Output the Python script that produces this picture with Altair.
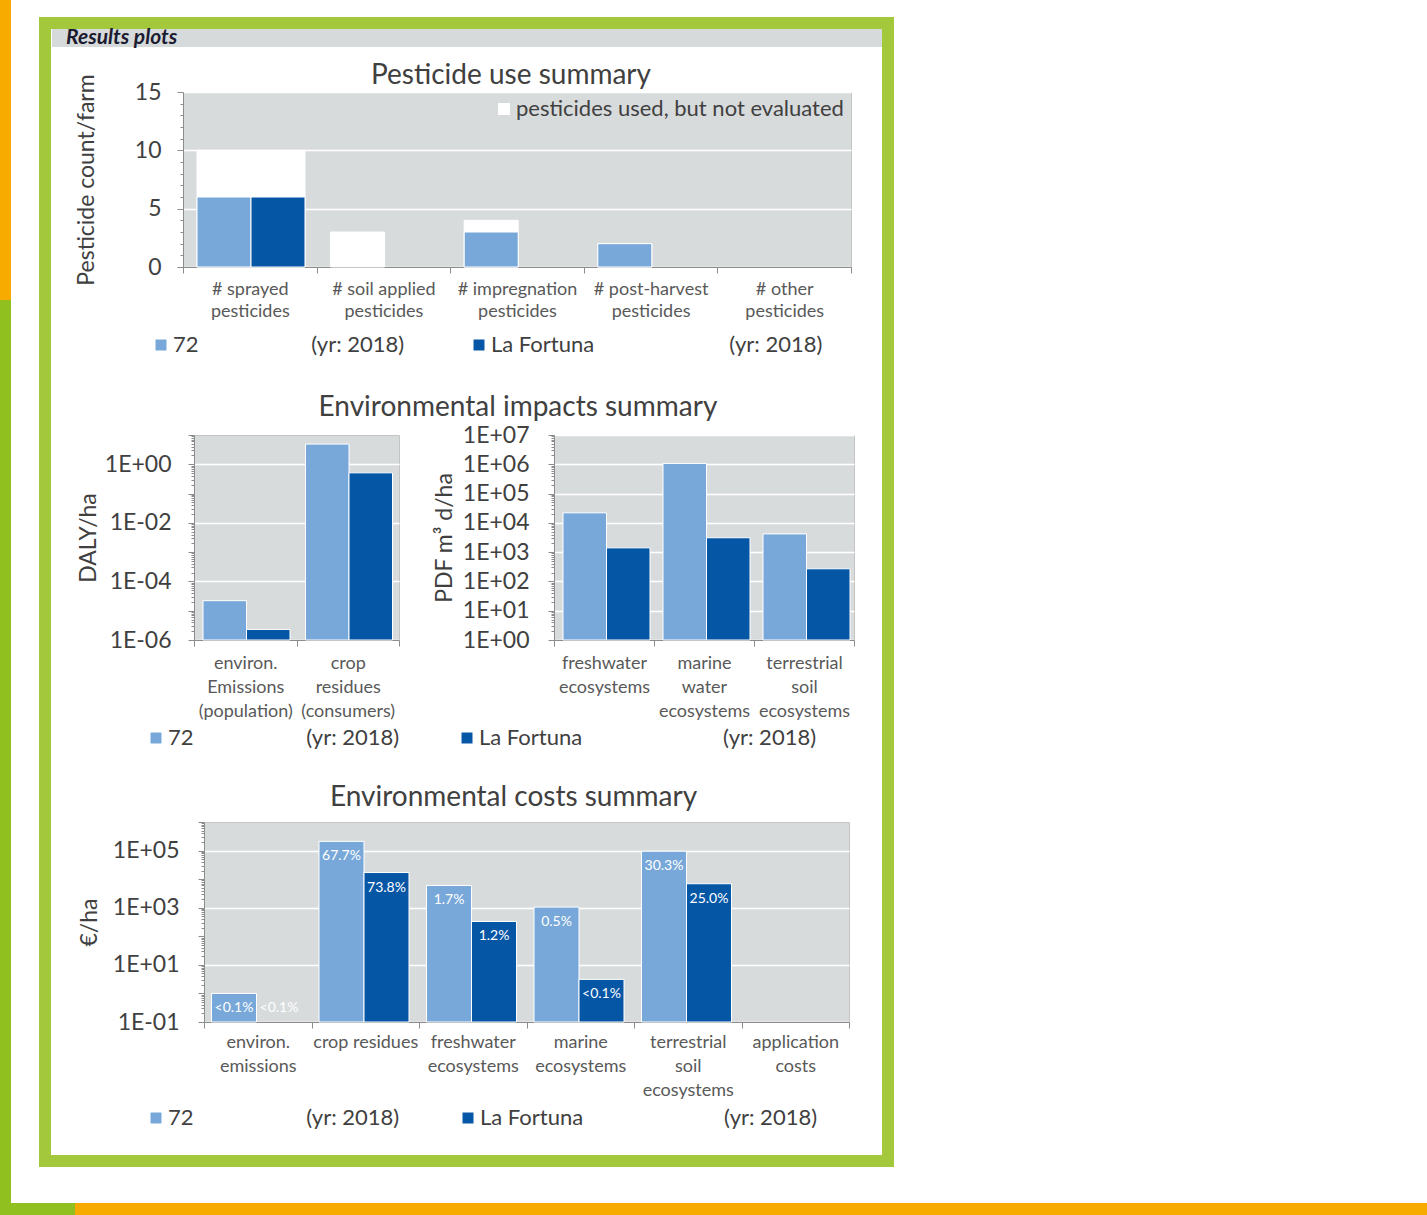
import altair as alt
import pandas as pd

FONT = "Lato"
TXT = "#404040"
LIGHT = "#78a8d9"
DARK = "#0656a6"
PLOT_BG = "#d8dbdc"
AXIS_GRAY = "#8c8c8c"
FRAME_GREEN = "#a3c83b"
STRIP_GREEN = "#8fc020"
ORANGE = "#f7ab00"

# ---------------- data ----------------
series = ["72", "La Fortuna"]
not_evaluated_label = "pesticides used, but not evaluated"

pest_categories = ["# sprayed|pesticides", "# soil applied|pesticides",
                   "# impregnation|pesticides", "# post-harvest|pesticides",
                   "# other|pesticides"]
pest_evaluated_72 = [6, 0, 3, 2, 0]
pest_not_evaluated_72 = [4, 3, 1, 0, 0]
pest_evaluated_lf = [6, 0, 0, 0, 0]
pest_not_evaluated_lf = [4, 0, 0, 0, 0]

daly_categories = ["environ.|Emissions|(population)", "crop|residues|(consumers)"]
daly_72 = [2.2e-5, 4.9]
daly_lf = [2.3e-6, 0.51]

pdf_categories = ["freshwater|ecosystems", "marine|water|ecosystems",
                  "terrestrial|soil|ecosystems"]
pdf_72 = [2.2e4, 1.07e6, 4.2e3]
pdf_lf = [1.4e3, 3.1e3, 2.7e2]

cost_categories = ["environ.|emissions", "crop residues", "freshwater|ecosystems",
                   "marine|ecosystems", "terrestrial|soil|ecosystems",
                   "application|costs"]
cost_72 = [1.0, 2.1e5, 6.0e3, 1.05e3, 9.5e4, None]
cost_lf = [0.05, 1.7e4, 3.3e2, 3.1, 6.9e3, None]
cost_share_72 = ["<0.1%", "67.7%", "1.7%", "0.5%", "30.3%", ""]
cost_share_lf = ["<0.1%", "73.8%", "1.2%", "<0.1%", "25.0%", ""]

# ---------------- tables ----------------
pest_rows = []
for i, c in enumerate(pest_categories):
    pest_rows.append({"category": c, "series": series[0], "evaluated": pest_evaluated_72[i],
                      "total": pest_evaluated_72[i] + pest_not_evaluated_72[i],
                      "status": not_evaluated_label})
    pest_rows.append({"category": c, "series": series[1], "evaluated": pest_evaluated_lf[i],
                      "total": pest_evaluated_lf[i] + pest_not_evaluated_lf[i],
                      "status": not_evaluated_label})
pest_df = pd.DataFrame(pest_rows)


def two_series(categories, a, b, share_a=None, share_b=None):
    rows = []
    for i, c in enumerate(categories):
        rows.append({"category": c, "series": series[0], "value": a[i],
                     "share": share_a[i] if share_a else ""})
        rows.append({"category": c, "series": series[1], "value": b[i],
                     "share": share_b[i] if share_b else ""})
    return pd.DataFrame(rows)


daly_df = two_series(daly_categories, daly_72, daly_lf)
pdf_df = two_series(pdf_categories, pdf_72, pdf_lf)
cost_df = two_series(cost_categories, cost_72, cost_lf, cost_share_72, cost_share_lf)

# ---------------- helpers ----------------
color_scale = alt.Scale(domain=series, range=[LIGHT, DARK])
NBSP = "\u00a0"


def series_legend(x, y, gap1, gap2, colpad):
    expr = ("datum.value == '72' ? '72" + NBSP * gap1 + "(yr: 2018)' : 'La Fortuna"
            + NBSP * gap2 + "(yr: 2018)'")
    return alt.Legend(orient="none", legendX=x, legendY=y, direction="horizontal",
                      title=None, symbolType="square", symbolSize=121, symbolStrokeWidth=0,
                      labelFont=FONT, labelFontSize=22, labelColor=TXT, labelLimit=900,
                      labelExpr=expr, columnPadding=colpad, padding=0, labelOffset=1)


def x_axis(pad, lh):
    return alt.Axis(title=None, labelAngle=0, labelExpr="split(datum.label, '|')",
                    labelFont=FONT, labelFontSize=18, labelColor="#595959",
                    labelLineHeight=lh, tickBand="extent", ticks=True, tickSize=6,
                    tickColor=AXIS_GRAY, domainColor=AXIS_GRAY, labelPadding=pad,
                    grid=False, labelLimit=300, labelOverlap=False)


def band_x(categories, pad, lh):
    return alt.X("category:N", sort=categories,
                 scale=alt.Scale(domain=categories, paddingInner=0, paddingOuter=0),
                 axis=x_axis(pad, lh))


def offset(lo, hi):
    # the two bars of one category share the band [lo, hi] inside it
    return alt.XOffset("series:N", scale=alt.Scale(domain=series, range=[lo, hi],
                                                   paddingInner=0, paddingOuter=0))


def log_ticks(lo, hi):
    vals = []
    for e in range(lo, hi):
        for m in range(1, 10):
            vals.append(float(f"{m}e{e}"))
    vals.append(float(f"1e{hi}"))
    return vals


def log_axis(lo, hi, rule, title, lpad, tpad):
    E = "round(log(datum.value)/LN10)"
    dec = f"(abs(log(datum.value)/LN10 - {E}) < 0.001)"
    if rule == "even":
        lab = f"({dec} && ({E} % 2 == 0))"
    elif rule == "odd":
        lab = f"({dec} && (abs({E} % 2) == 1))"
    else:
        lab = dec
    txt = f"'1E' + ({E} < 0 ? '-' : '+') + (abs({E}) < 10 ? '0' : '') + abs({E})"
    return alt.Axis(values=log_ticks(lo, hi), labelExpr=f"{lab} ? {txt} : ''",
                    tickSize={"condition": {"test": dec, "value": 6}, "value": 3},
                    grid=True, gridColor="white", gridWidth=1.5,
                    gridOpacity={"condition": {"test": lab, "value": 1}, "value": 0},
                    labelFont=FONT, labelFontSize=23, labelColor=TXT, labelPadding=lpad,
                    labelOverlap=False, tickColor=AXIS_GRAY, domainColor=AXIS_GRAY,
                    title=title, titleFont=FONT, titleFontSize=23, titleFontWeight="normal",
                    titleColor=TXT, titlePadding=tpad)


def spacer(w):
    return alt.Chart(pd.DataFrame({"t": [""]})).mark_text().encode(
        text="t:N").properties(width=w, height=1,
                               view=alt.ViewBackground(fill="transparent", stroke=None))


def title(text, dx=0, offset=6):
    return alt.TitleParams(text, font=FONT, fontSize=28, fontWeight="normal", color=TXT,
                           anchor="middle", frame="group", offset=offset, dx=dx)


def indep_layer(c):
    return c.resolve_scale(color="independent", fill="independent").resolve_legend(
        color="independent", fill="independent")


def indep(c):
    return c.resolve_scale(color="independent", fill="independent",
                           xOffset="independent").resolve_legend(
        color="independent", fill="independent")


bar_style = dict(stroke="white", strokeWidth=1)

# ---------------- header band and page decoration ----------------
hdr_df = pd.DataFrame({"t": ["Results plots"]})


def deco(x, x2, y, y2, **kw):
    return alt.Chart(hdr_df).mark_rect(**kw).encode(
        x=alt.value(x), x2=alt.value(x2), y=alt.value(y), y2=alt.value(y2))


header = alt.layer(
    deco(-52, -41, -28, 272, color=ORANGE),
    deco(-52, -41, 272, 1187, color=STRIP_GREEN),
    deco(-52, 23, 1175, 1187, color=STRIP_GREEN),
    deco(23, 1375, 1175, 1187, color=ORANGE),
    deco(-7, 836, -5, 1133, fillOpacity=0, stroke=FRAME_GREEN, strokeWidth=12),
    alt.Chart(hdr_df).mark_text(
        align="left", baseline="middle", font=FONT, fontSize=21, fontStyle="italic",
        fontWeight="bold", color="#1c1c30").encode(
        x=alt.value(14), y=alt.value(10), text="t:N"),
).properties(width=831, height=19, view=alt.ViewBackground(fill="#d7dadb", stroke=None))

# ---------------- pesticide use ----------------
px = band_x(pest_categories, 7, 22)
pxo = offset(14, 122)
py = alt.Y("h:Q", scale=alt.Scale(domain=[0, 15]), stack=None,
           axis=alt.Axis(values=list(range(16)),
                         labelExpr="datum.value % 5 == 0 ? datum.label : ''",
                         tickSize={"condition": {"test": "datum.value % 5 == 0", "value": 6}, "value": 3},
                         grid=True, gridColor="white", gridWidth=1.5,
                         gridOpacity={"condition": {"test": "datum.value % 5 == 0", "value": 1}, "value": 0},
                         labelFont=FONT, labelFontSize=23, labelColor=TXT, labelPadding=16,
                         labelOverlap=False, tickColor=AXIS_GRAY, domainColor=AXIS_GRAY,
                         title="Pesticide count/farm", titleFont=FONT, titleFontSize=23,
                         titleFontWeight="normal", titleColor=TXT, titlePadding=36))

pest_white = alt.Chart(pest_df).transform_filter("datum.total > 0").transform_calculate(
    h="datum.total").mark_bar(**bar_style).encode(
    x=px, xOffset=pxo, y=py,
    fill=alt.Fill("status:N", scale=alt.Scale(range=["white"]),
                  legend=alt.Legend(orient="none", legendX=310, legendY=6, title=None,
                                    symbolType="square", symbolSize=144, symbolStrokeWidth=0,
                                    labelFont=FONT, labelFontSize=22, labelColor=TXT,
                                    labelLimit=900, padding=0, labelOffset=1)))
pest_eval = alt.Chart(pest_df).transform_filter("datum.evaluated > 0").transform_calculate(
    h="datum.evaluated").mark_bar(**bar_style).encode(
    x=px, xOffset=pxo, y=py,
    color=alt.Color("series:N", scale=color_scale, legend=series_legend(-33, 242, 20, 24, 63)))
pest_chart = indep_layer(alt.layer(pest_white, pest_eval)).properties(
    width=668, height=175, title=title("Pesticide use summary", dx=-6, offset=-16))

# ---------------- environmental impacts ----------------
daly_chart = alt.Chart(daly_df).mark_bar(**bar_style).encode(
    x=band_x(daly_categories, 8, 24), xOffset=offset(9, 96),
    y=alt.Y("value:Q", scale=alt.Scale(type="log", domain=[1e-6, 10]),
            axis=log_axis(-6, 1, "even", "DALY/ha", 17, 4)),
    y2=alt.datum(1e-6),
    color=alt.Color("series:N", scale=color_scale, legend=series_legend(-49, 292, 20, 25, 56)),
).properties(width=205, height=205)

pdf_chart = alt.Chart(pdf_df).mark_bar(**bar_style).encode(
    x=band_x(pdf_categories, 8, 24), xOffset=offset(7, 92),
    y=alt.Y("value:Q", scale=alt.Scale(type="log", domain=[1, 1e7]),
            axis=log_axis(0, 7, "all", "PDF m³ d/ha", 19, 6)),
    y2=alt.datum(1),
    color=alt.Color("series:N", scale=color_scale, legend=None),
).properties(width=300, height=205)

impacts = indep(alt.hconcat(daly_chart, pdf_chart, spacing=155, bounds="flush",
                            title=alt.TitleParams("Environmental impacts summary", font=FONT,
                                                  fontSize=28, fontWeight="normal", color=TXT,
                                                  anchor="middle", offset=2, dx=52)
                            )).resolve_scale(x="independent", y="independent")

# ---------------- environmental costs ----------------
cx = band_x(cost_categories, 5, 24)
cxo = offset(7.5, 97.5)
cy_scale = alt.Scale(type="log", domain=[0.1, 1e6])
cost_bars = alt.Chart(cost_df).transform_filter("datum.value >= 0.1").mark_bar(**bar_style).encode(
    x=cx, xOffset=cxo,
    y=alt.Y("value:Q", scale=cy_scale, axis=log_axis(-1, 6, "odd", "€/ha", 19, 11)),
    y2=alt.datum(0.1),
    color=alt.Color("series:N", scale=color_scale, legend=series_legend(-59, 285, 20, 25, 57)))
cost_text = alt.Chart(cost_df).transform_calculate(
    label_y="max(datum.value, 1)").mark_text(
    color="white", font=FONT, fontSize=14, dy=15, baseline="middle").encode(
    x=cx, xOffset=cxo, y=alt.Y("label_y:Q", scale=cy_scale), text="share:N")
cost_chart = indep_layer(alt.layer(cost_bars, cost_text)).properties(
    width=645, height=200, title=title("Environmental costs summary", dx=-13, offset=-1))

# ---------------- assemble ----------------
row_top = indep(alt.hconcat(spacer(22), pest_chart, spacing=0))
row_mid = indep(alt.hconcat(spacer(24), impacts, spacing=0))
row_bot = indep(alt.hconcat(spacer(25), cost_chart, spacing=0))
lower = indep(alt.vconcat(row_mid, row_bot, spacing=33))
body = indep(alt.vconcat(row_top, lower, spacing=36))

chart = indep(alt.vconcat(header, body, spacing=45, bounds="flush")).properties(
    padding=0,
    background="white",
).configure_view(fill=PLOT_BG, stroke="#c4c4c4").configure_axis(
    labelFont=FONT, titleFont=FONT)

chart.save("out.html", embed_options={"renderer": "svg", "actions": False})
